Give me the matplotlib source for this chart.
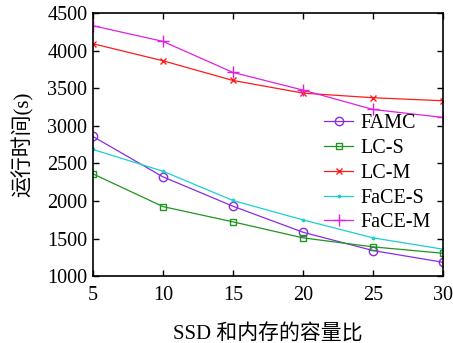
import matplotlib
matplotlib.use('Agg')
import matplotlib.pyplot as plt

plt.rcParams.update({
    'font.family': ['Liberation Serif', 'Noto Sans CJK SC'],
    'font.size': 14.5,
    'xtick.direction': 'in',
    'ytick.direction': 'in',
    'xtick.top': True,
    'ytick.right': True,
})

ratio = [5, 10, 15, 20, 25, 30]
famc = [2858, 2321, 1930, 1584, 1340, 1184]
lc_s = [2361, 1925, 1722, 1509, 1389, 1304]
lc_m = [4092, 3865, 3603, 3435, 3373, 3333]
face_s = [2685, 2396, 2006, 1748, 1509, 1358]
face_m = [4331, 4123, 3710, 3475, 3217, 3111]

fig = plt.figure(figsize=(4.53, 3.43), dpi=100)
ax = fig.add_axes([0.205, 0.195, 0.773, 0.767])

series = [
    (famc, 'FAMC', '#8a2be2', 'o', 6, 'none'),
    (lc_s, 'LC-S', '#1f951f', 's', 5, 'none'),
    (lc_m, 'LC-M', '#ff1a1a', 'x', 5, None),
    (face_s, 'FaCE-S', '#1ad0d0', '.', 3.5, None),
    (face_m, 'FaCE-M', '#e020e0', '+', 9, None),
]
for data, name, color, mk, ms, mfc in series:
    kw = dict(color=color, linewidth=0.9, marker=mk, markersize=ms, label=name)
    if mfc:
        kw['markerfacecolor'] = mfc
    ax.plot(ratio, data, **kw)

ax.set_xlim(5, 30)
ax.set_ylim(1000, 4500)
ax.set_xticks(ratio)
ax.set_yticks(range(1000, 4501, 500))
ax.tick_params(length=4, width=1)
ax.tick_params(axis='x', pad=7)
ax.tick_params(axis='y', pad=4)
for s in ax.spines.values():
    s.set_linewidth(1.2)

ax.set_xlabel('SSD 和内存的容量比', fontsize=15, labelpad=14)
ax.set_ylabel('运行时间(s)', fontsize=15, labelpad=10)

ax.legend(loc='upper left', bbox_to_anchor=(0.66, 0.615), frameon=False,
          handlelength=1.45, handletextpad=0.35, labelspacing=0.28,
          borderpad=0, borderaxespad=0)

fig.savefig('out.png', dpi=100)
